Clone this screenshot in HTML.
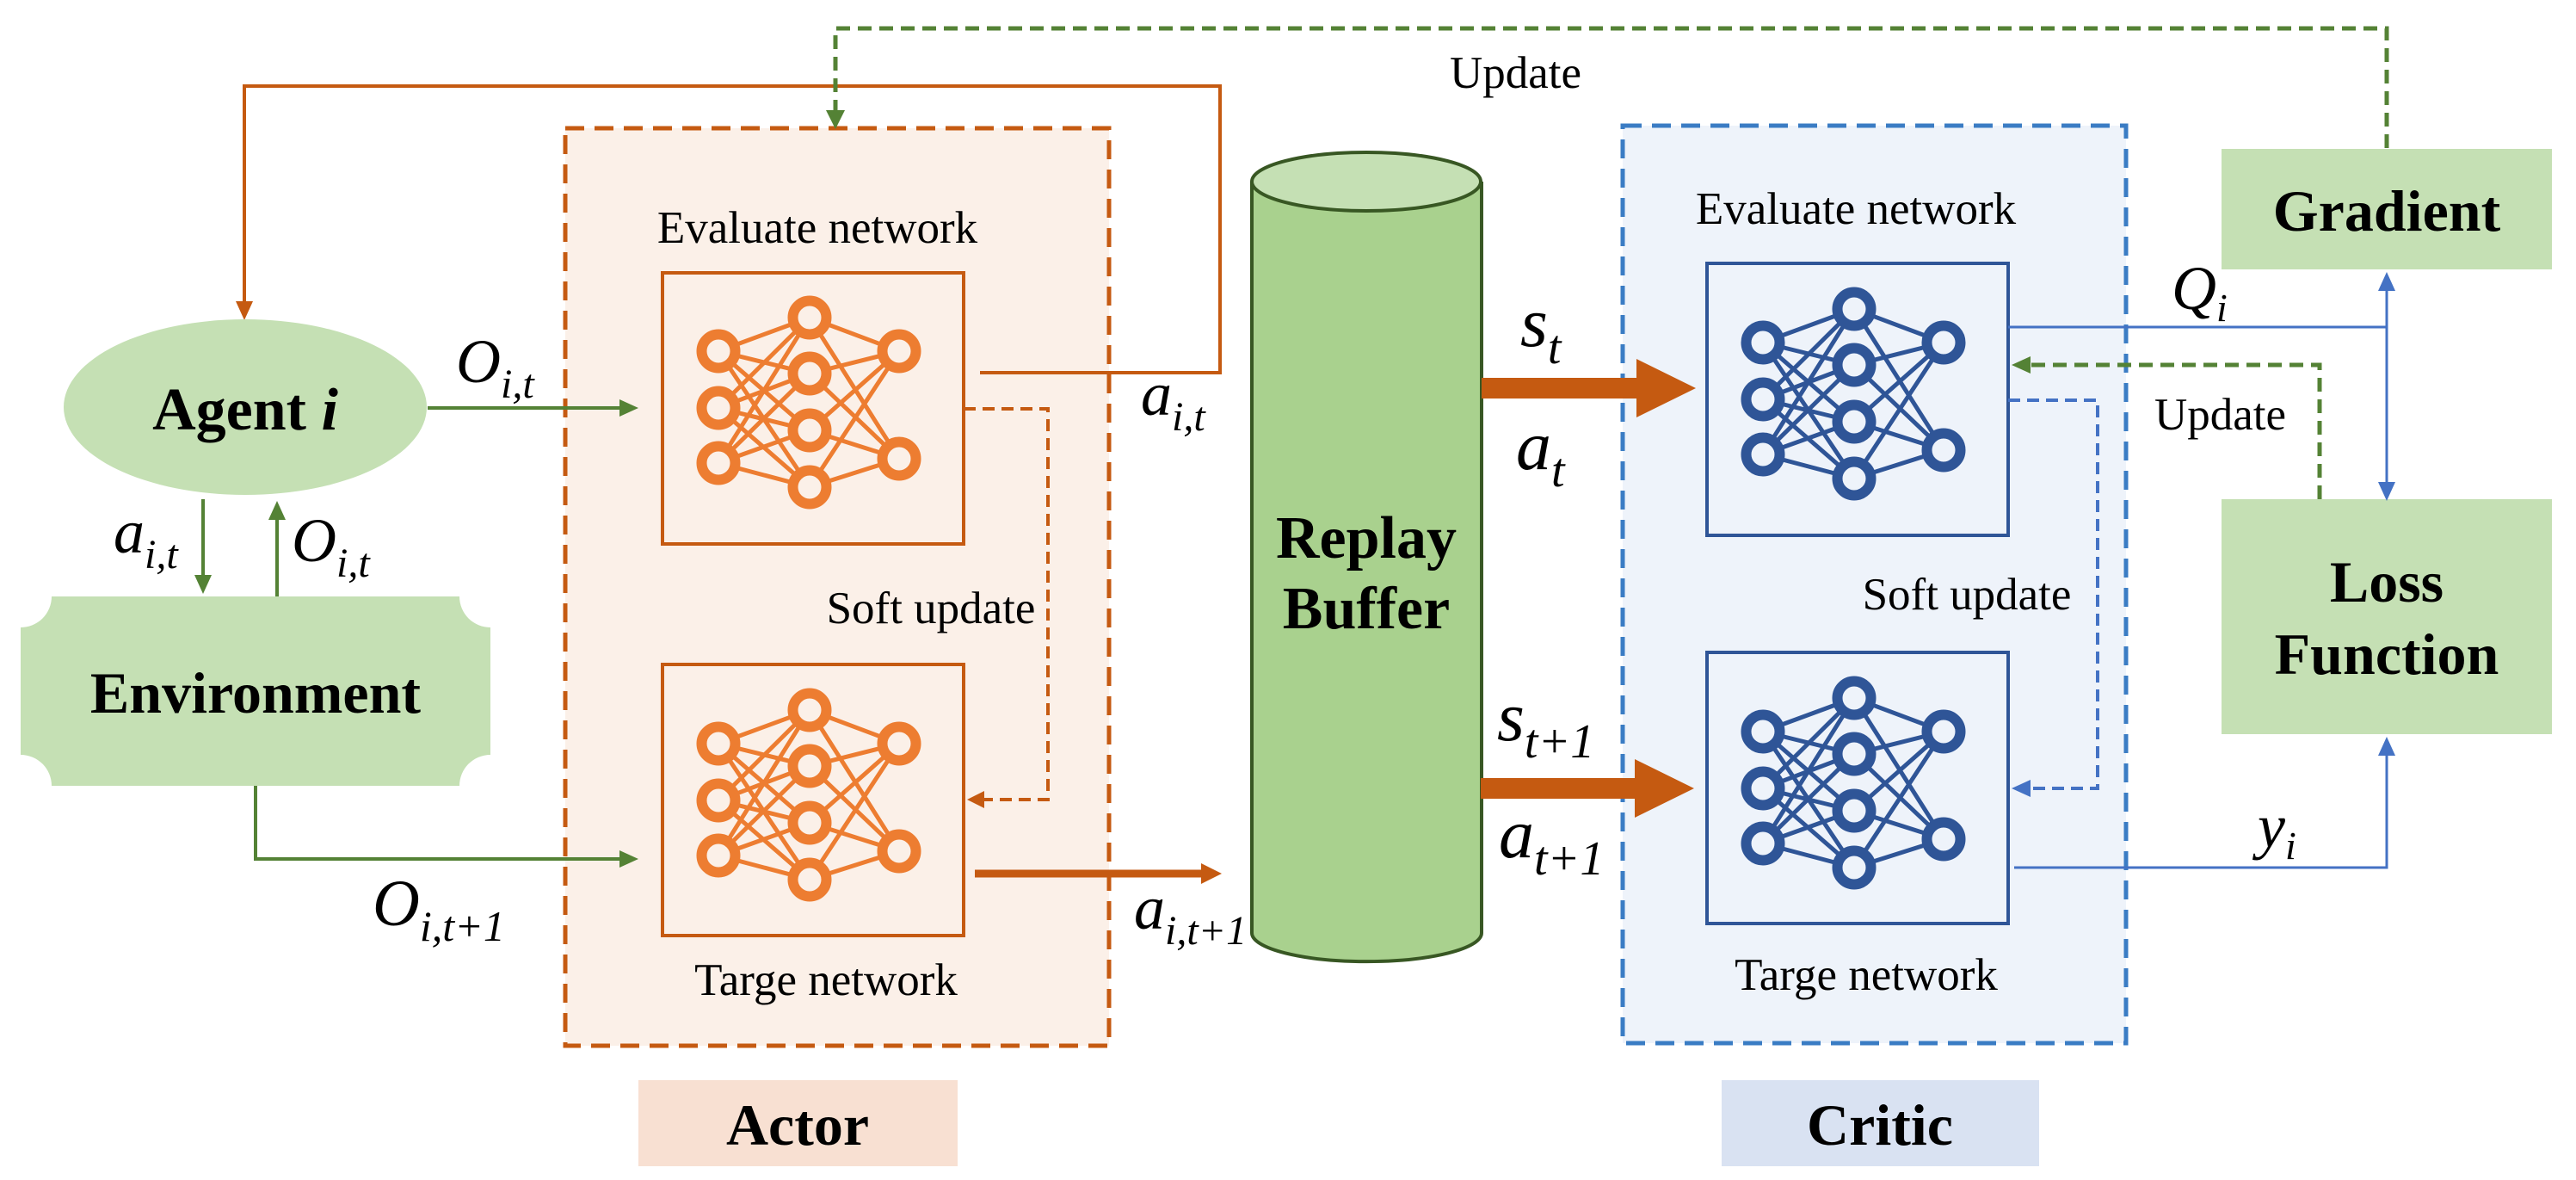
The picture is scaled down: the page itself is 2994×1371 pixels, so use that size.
<!DOCTYPE html>
<html><head><meta charset="utf-8"><style>
html,body{margin:0;padding:0;background:#fff;}
svg{display:block;}
text{font-family:"Liberation Serif","Times New Roman",serif;}
.b{font-weight:bold;}
.m{font-style:italic;}
</style></head><body>
<svg width="2994" height="1371" viewBox="0 0 2994 1371" xmlns="http://www.w3.org/2000/svg" font-family="Liberation Serif, serif">
<defs>
<g id="edges" stroke-width="5">
  <path d="M65,92 L171,53 M65,92 L171,118 M65,92 L171,184 M65,92 L171,250 M65,158 L171,53 M65,158 L171,118 M65,158 L171,184 M65,158 L171,250 M65,222 L171,53 M65,222 L171,118 M65,222 L171,184 M65,222 L171,250 M171,53 L275,92 M171,53 L275,217 M171,118 L275,92 M171,118 L275,217 M171,184 L275,92 M171,184 L275,217 M171,250 L275,92 M171,250 L275,217"/>
</g>
<g id="nodes" stroke-width="12">
  <circle cx="65" cy="92" r="19.5"/><circle cx="65" cy="158" r="19.5"/><circle cx="65" cy="222" r="19.5"/>
  <circle cx="171" cy="53" r="19.5"/><circle cx="171" cy="118" r="19.5"/><circle cx="171" cy="184" r="19.5"/><circle cx="171" cy="250" r="19.5"/>
  <circle cx="275" cy="92" r="19.5"/><circle cx="275" cy="217" r="19.5"/>
</g>
</defs>

<!-- Actor region -->
<rect x="657" y="149" width="632" height="1066" fill="#FBF0E8" stroke="#C55A11" stroke-width="5" stroke-dasharray="22,12"/>
<rect x="742" y="1255" width="371" height="100" fill="#F8E0D2"/>
<text x="927" y="1330" font-size="68" class="b" text-anchor="middle">Actor</text>

<!-- Critic region -->
<rect x="1886" y="146" width="585" height="1066" fill="#EEF3FA" stroke="#3A7CC4" stroke-width="5" stroke-dasharray="22,12"/>
<rect x="2001" y="1255" width="369" height="100" fill="#D9E2F2"/>
<text x="2185" y="1330" font-size="68" class="b" text-anchor="middle">Critic</text>

<!-- Top orange loop -->
<polyline points="1139,433 1418,433 1418,100 284,100 284,352" fill="none" stroke="#C55A11" stroke-width="4"/>
<path d="M274,350 L284,372 L294,350 z" fill="#C55A11"/>
<!-- Top green dashed -->
<polyline points="2774,172 2774,33 971,33 971,130" fill="none" stroke="#548235" stroke-width="5" stroke-dasharray="16,9"/>
<path d="M960,128 L971,150 L982,128 z" fill="#548235"/>
<text x="1685" y="102" font-size="53">Update</text>

<!-- Agent -->
<ellipse cx="285" cy="473" rx="211" ry="102" fill="#C5E0B4"/>
<text x="285" y="499" font-size="70" class="b" text-anchor="middle">Agent <tspan class="m">i</tspan></text>
<!-- Environment -->
<path d="M60,693 H534 A36,36 0 0 0 570,729 V877 A36,36 0 0 0 534,913 H60 A36,36 0 0 0 24,877 V729 A36,36 0 0 0 60,693 Z" fill="#C5E0B4"/>
<text x="297" y="828" font-size="68" class="b" text-anchor="middle">Environment</text>

<!-- agent/env arrows -->
<line x1="236" y1="580" x2="236" y2="670" stroke="#548235" stroke-width="4"/>
<path d="M226,668 L236,690 L246,668 z" fill="#548235"/>
<line x1="322" y1="693" x2="322" y2="602" stroke="#548235" stroke-width="4"/>
<path d="M312,604 L322,582 L332,604 z" fill="#548235"/>
<text x="132" y="642" font-size="72" class="m">a<tspan font-size="48" dy="18">i,t</tspan></text>
<text x="339" y="652" font-size="72" class="m">O<tspan font-size="48" dy="18">i,t</tspan></text>

<!-- agent -> eval -->
<line x1="497" y1="474" x2="722" y2="474" stroke="#548235" stroke-width="4"/>
<path d="M720,464 L742,474 L720,484 z" fill="#548235"/>
<text x="530" y="444" font-size="72" class="m">O<tspan font-size="48" dy="18">i,t</tspan></text>
<!-- env -> target -->
<polyline points="297,913 297,998 722,998" fill="none" stroke="#548235" stroke-width="4"/>
<path d="M720,988 L742,998 L720,1008 z" fill="#548235"/>
<text x="433" y="1075" font-size="76" class="m">O<tspan font-size="50" dy="18">i,t+1</tspan></text>

<!-- Actor networks -->
<text x="950" y="282" font-size="53" text-anchor="middle">Evaluate network</text>
<rect x="770" y="317" width="350" height="315" fill="none" stroke="#C55A11" stroke-width="4"/>
<g transform="translate(770,316)" stroke="#ED7D31" fill="#FBF0E8"><use href="#edges"/><use href="#nodes"/></g>
<rect x="770" y="772" width="350" height="315" fill="none" stroke="#C55A11" stroke-width="4"/>
<g transform="translate(770,772)" stroke="#ED7D31" fill="#FBF0E8"><use href="#edges"/><use href="#nodes"/></g>
<text x="960" y="1156" font-size="53" text-anchor="middle">Targe network</text>
<text x="1082" y="724" font-size="53" text-anchor="middle">Soft update</text>
<polyline points="1120,475 1218,475 1218,929 1140,929" fill="none" stroke="#C55A11" stroke-width="4" stroke-dasharray="14,8"/>
<path d="M1144,919 L1124,929 L1144,939 z" fill="#C55A11"/>
<line x1="1133" y1="1015" x2="1398" y2="1015" stroke="#C55A11" stroke-width="9"/>
<path d="M1396,1003 L1420,1015 L1396,1027 z" fill="#C55A11"/>
<text x="1326" y="482" font-size="72" class="m">a<tspan font-size="48" dy="18">i,t</tspan></text>
<text x="1318" y="1079" font-size="72" class="m">a<tspan font-size="48" dy="18">i,t+1</tspan></text>

<!-- Replay buffer cylinder -->
<path d="M1455,211 V1084 A133,33 0 0 0 1722,1084 V211" fill="#A9D18E" stroke="#385723" stroke-width="4"/>
<ellipse cx="1588" cy="211" rx="133" ry="34" fill="#C5E0B4" stroke="#385723" stroke-width="4"/>
<text x="1588" y="648" font-size="70" class="b" text-anchor="middle">Replay</text>
<text x="1588" y="730" font-size="70" class="b" text-anchor="middle">Buffer</text>

<!-- big orange arrows -->
<rect x="1722" y="439" width="182" height="24" fill="#C55A11"/>
<path d="M1902,417 L1971,451 L1902,485 z" fill="#C55A11"/>
<rect x="1721" y="904" width="182" height="24" fill="#C55A11"/>
<path d="M1900,882 L1969,916 L1900,950 z" fill="#C55A11"/>
<text x="1767" y="402" font-size="82" class="m">s<tspan font-size="56" dy="20">t</tspan></text>
<text x="1762" y="545" font-size="82" class="m">a<tspan font-size="56" dy="20">t</tspan></text>
<text x="1740" y="860" font-size="82" class="m">s<tspan font-size="56" dy="20">t+1</tspan></text>
<text x="1742" y="996" font-size="82" class="m">a<tspan font-size="56" dy="20">t+1</tspan></text>

<!-- Critic networks -->
<text x="2157" y="260" font-size="53" text-anchor="middle">Evaluate network</text>
<rect x="1984" y="306" width="350" height="316" fill="none" stroke="#2F5597" stroke-width="4"/>
<g transform="translate(1984,306)" stroke="#2F5597" fill="#EEF3FA"><use href="#edges"/><use href="#nodes"/></g>
<rect x="1984" y="758" width="350" height="315" fill="none" stroke="#2F5597" stroke-width="4"/>
<g transform="translate(1984,758)" stroke="#2F5597" fill="#EEF3FA"><use href="#edges"/><use href="#nodes"/></g>
<text x="2169" y="1150" font-size="53" text-anchor="middle">Targe network</text>
<text x="2286" y="708" font-size="53" text-anchor="middle">Soft update</text>
<polyline points="2334,465 2438,465 2438,916 2358,916" fill="none" stroke="#4472C4" stroke-width="4" stroke-dasharray="14,8"/>
<path d="M2360,906 L2338,916 L2360,926 z" fill="#4472C4"/>
<polyline points="2696,580 2696,424 2360,424" fill="none" stroke="#548235" stroke-width="5" stroke-dasharray="16,9"/>
<path d="M2360,414 L2338,424 L2360,434 z" fill="#548235"/>
<text x="2504" y="499" font-size="53">Update</text>

<!-- Gradient / Loss -->
<rect x="2582" y="173" width="384" height="140" fill="#C5E0B4"/>
<text x="2774" y="268" font-size="68" class="b" text-anchor="middle">Gradient</text>
<rect x="2582" y="580" width="384" height="273" fill="#C5E0B4"/>
<text x="2774" y="699" font-size="68" class="b" text-anchor="middle">Loss</text>
<text x="2774" y="783" font-size="68" class="b" text-anchor="middle">Function</text>

<line x1="2334" y1="380" x2="2774" y2="380" stroke="#4472C4" stroke-width="3"/>
<line x1="2774" y1="336" x2="2774" y2="562" stroke="#4472C4" stroke-width="3"/>
<path d="M2764,338 L2774,316 L2784,338 z" fill="#4472C4"/>
<path d="M2764,560 L2774,582 L2784,560 z" fill="#4472C4"/>
<text x="2524" y="359" font-size="72" class="m">Q<tspan font-size="46" dy="14">i</tspan></text>
<polyline points="2341,1008 2774,1008 2774,876" fill="none" stroke="#4472C4" stroke-width="3"/>
<path d="M2764,878 L2774,856 L2784,878 z" fill="#4472C4"/>
<text x="2624" y="984" font-size="72" class="m">y<tspan font-size="46" dy="14">i</tspan></text>
</svg>
</body></html>
